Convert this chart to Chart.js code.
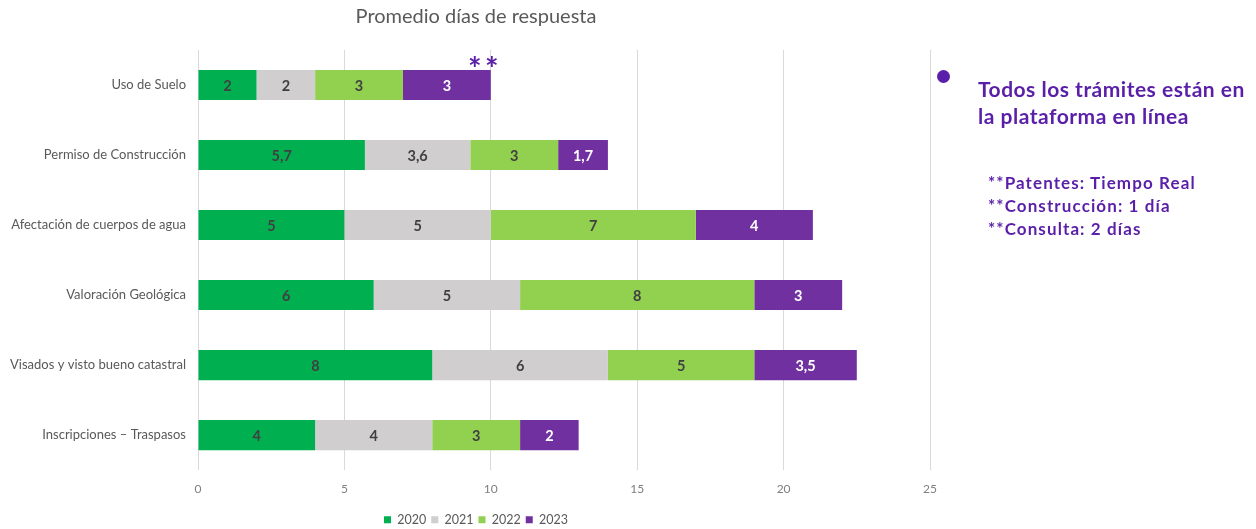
<!DOCTYPE html>
<html><head><meta charset="utf-8">
<script src="https://cdn.jsdelivr.net/npm/chart.js@4.4.1/dist/chart.umd.min.js"></script>
<style>
html,body{margin:0;padding:0;background:#fff;}
#wrap{position:absolute;left:0;top:0;width:952px;height:529px;}
#side{position:absolute;left:0;top:0;width:1256px;height:529px;pointer-events:none;font-family:Lato,"Open Sans",sans-serif;color:#5a1fa8;}
.dot{position:absolute;left:937px;top:70px;width:13px;height:13px;border-radius:50%;background:#5a1fa8;}
.big{position:absolute;left:978px;top:75px;font-weight:bold;font-size:21px;letter-spacing:0.5px;line-height:27px;white-space:nowrap;}
.small{position:absolute;left:988px;top:171px;font-weight:bold;font-size:17px;letter-spacing:1.1px;line-height:23px;white-space:nowrap;}
</style></head>
<body>
<div id="wrap"><canvas id="c"></canvas></div>
<div id="side">
  <div class="dot"></div>
  <div class="big">Todos los trámites están en<br>la plataforma en línea</div>
  <div class="small">**Patentes: Tiempo Real<br>**Construcción: 1 día<br>**Consulta: 2 días</div>
</div>
<script>
const categories = ["Uso de Suelo","Permiso de Construcción","Afectación de cuerpos de agua","Valoración Geológica","Visados y visto bueno catastral","Inscripciones – Traspasos"];
const seriesNames = ["2020","2021","2022","2023"];
const values2020 = [2, 5.7, 5, 6, 8, 4];
const values2021 = [2, 3.6, 5, 5, 6, 4];
const values2022 = [3, 3, 7, 8, 5, 3];
const values2023 = [3, 1.7, 4, 3, 3.5, 2];
const xTicks = [0, 5, 10, 15, 20, 25];

const colors = ["#00b050", "#d0cece", "#92d050", "#7030a0"];
const labelColors = ["#404040", "#404040", "#404040", "#ffffff"];
const allValues = [values2020, values2021, values2022, values2023];

const FONT = "Lato, 'Open Sans', sans-serif";
const CANVAS_W = 952;

const shiftBoxes = {
  id: 'shiftBoxes',
  afterLayout(chart) {
    // centre title and legend on the full canvas width
    if (chart.titleBlock) { chart.titleBlock.left = 0; chart.titleBlock.right = CANVAS_W; chart.titleBlock.width = CANVAS_W; }
    if (chart.legend) { chart.legend.left = 0; chart.legend.right = CANVAS_W; chart.legend.width = CANVAS_W; }
  }
};

const barLabels = {
  id: 'barLabels',
  afterDatasetsDraw(chart) {
    const ctx = chart.ctx;
    ctx.save();
    ctx.font = "bold 14.5px " + FONT;
    ctx.textAlign = "center";
    ctx.textBaseline = "middle";
    chart.data.datasets.forEach((ds, i) => {
      const meta = chart.getDatasetMeta(i);
      meta.data.forEach((bar, j) => {
        const v = ds.data[j];
        const cx = (bar.x + bar.base) / 2;
        ctx.fillStyle = labelColors[i];
        ctx.fillText(String(v).replace(".", ","), cx, bar.y + 1);
      });
    });
    // "**" annotation above the first bar's end
    const xs = chart.scales.x;
    const first = chart.getDatasetMeta(3).data[0];
    ctx.fillStyle = "#5a1fa8";
    ctx.font = "bold 32px " + FONT;
    ctx.textBaseline = "alphabetic";
    const x10 = xs.getPixelForValue(10);
    ctx.fillText("*", x10 - 16, first.y - 4);
    ctx.fillText("*", x10 + 1, first.y - 4);
    ctx.restore();
  }
};

new Chart(document.getElementById('c'), {
  type: 'bar',
  data: {
    labels: categories,
    datasets: seriesNames.map((n, i) => ({
      label: n,
      data: allValues[i],
      backgroundColor: colors[i],
      borderWidth: 0,
      categoryPercentage: 1,
      barPercentage: 0.43
    }))
  },
  options: {
    indexAxis: 'y',
    responsive: true,
    maintainAspectRatio: false,
    animation: false,
    layout: { padding: { left: 0, right: 22, top: 0, bottom: -7 } },
    plugins: {
      title: {
        display: true,
        text: "Promedio días de respuesta",
        color: "#595959",
        font: { family: FONT, size: 20, weight: 'normal' },
        padding: { top: 5, bottom: 21 }
      },
      legend: {
        position: 'bottom',
        labels: {
          boxWidth: 7, boxHeight: 7, padding: 5,
          color: "#595959",
          font: { family: FONT, size: 12.5 }
        }
      },
      tooltip: { enabled: false }
    },
    scales: {
      x: {
        stacked: true,
        min: 0, max: 25,
        afterBuildTicks(scale) { scale.ticks = xTicks.map(v => ({ value: v })); },
        grid: { color: "#d9d9d9", drawTicks: false },
        border: { display: false },
        ticks: { color: "#7f7f7f", font: { family: FONT, size: 12 }, padding: 12 }
      },
      y: {
        stacked: true,
        afterFit(scale) { scale.width = 198; },
        grid: { display: false, drawTicks: false },
        border: { display: false },
        ticks: { color: "#595959", font: { family: FONT, size: 13 }, padding: 12 }
      }
    }
  },
  plugins: [shiftBoxes, barLabels]
});
</script>
</body></html>
